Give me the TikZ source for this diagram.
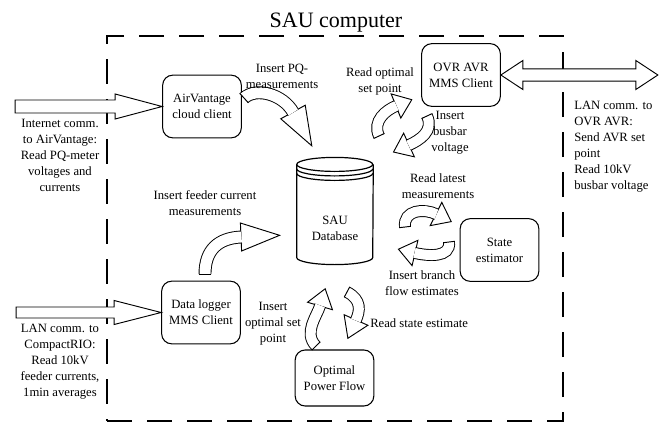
\documentclass[tikz,border=0pt]{standalone}
\usepackage{fontspec}
\setmainfont{Liberation Serif}
\usetikzlibrary{calc}
\newcommand{\lblfont}{\fontsize{9.5}{12}\selectfont}
\newcommand{\titlefont}{\fontsize{16.5}{20}\selectfont}
\tikzset{
  procbox/.style={draw, line width=0.8pt, rounded corners=7.5pt, align=center, inner sep=2pt, minimum width=59pt, minimum height=47pt},
  note/.style={align=center, inner sep=0pt},
  blockarrow/.style={draw, fill=white, line width=0.7pt, line join=miter},
  dbline/.style={draw, line width=0.9pt},
  sauframe/.style={draw, line width=1.5pt, dash pattern=on 18.75pt off 11.25pt, inner sep=0pt, minimum width=342pt, minimum height=288.75pt}
}
% tail, control, control, head base, shaft width, head half width, head length
\newcommand{\bentarrow}[7]{%
  \draw[blockarrow] ($(#4)!#6!90:(#3)$) -- ($(#4)!-#7!(#3)$) -- ($(#4)!#6!-90:(#3)$) -- cycle;
  \draw[blockarrow, fill=none, double=white, double distance=#5]
    (#1) .. controls (#2) and (#3) .. ($(#4)!-0.4pt!(#3)$);
  \draw[blockarrow, fill=none] ($(#1)!#5/2+0.7pt!90:(#2)$) -- ($(#1)!#5/2+0.7pt!-90:(#2)$);
}
\begin{document}
\begin{tikzpicture}[x=0.75pt, y=-0.75pt, font=\lblfont]
  \useasboundingbox (0,0) rectangle (665,425);
  \node[sauframe] (sau) at (335,228.5) {};
  \node[font=\titlefont, anchor=base, inner sep=0pt] (title) at (336,27.7) {SAU computer};

  \node[procbox] (air) at (202,106.5) {AirVantage\\cloud client};
  \node[procbox] (ovr) at (461,75) {OVR AVR\\MMS Client};
  \node[procbox] (state) at (499.5,250) {State\\estimator};
  \node[procbox] (logger) at (201,312.5) {Data logger\\MMS Client};
  \node[procbox, minimum height=42pt] (opf) at (334.5,378) {Optimal\\Power Flow};

  \node[minimum width=57pt, minimum height=80pt] (db) at (335,211) {};
  \draw[dbline] ($(db.north west)+(0,7)$) arc[start angle=180, end angle=-180, x radius=28.5pt, y radius=5.25pt];
  \foreach \dy in {11.5,16}
    \draw[dbline] ($(db.north west)+(0,\dy)$) arc[start angle=180, end angle=360, x radius=28.5pt, y radius=5.25pt];
  \draw[dbline] ($(db.north west)+(0,7)$) -- ($(db.south west)+(0,-7)$)
    arc[start angle=180, end angle=360, x radius=28.5pt, y radius=5.25pt] -- ($(db.north east)+(0,7)$);
  \node[note] (dbtext) at ($(db.center)+(0,17)$) {SAU\\Database};

  \draw[blockarrow] (air.west) -- ++(-47,-12.5) -- ++(0,6) -- ++(-100,0) -- ++(0,13) -- ++(100,0) -- ++(0,6) -- cycle;
  \draw[blockarrow] (logger.west) -- ++(-47,-12) -- ++(0,6.5) -- ++(-98,0) -- ++(0,11) -- ++(98,0) -- ++(0,6.5) -- cycle;
  \draw[blockarrow] (ovr.east) -- ++(22,-14.5) -- ++(0,8.3) -- ++(113,0) -- ++(0,-8.3) -- ++(22,14.5)
    -- ++(-22,14.5) -- ++(0,-8.3) -- ++(-113,0) -- ++(0,8.3) -- cycle;

  \bentarrow{244,98}{256,87}{283,94}{293,112}{8.25pt}{10.5pt}{29pt}
  \bentarrow{205,274}{205,250}{218,238}{241,237}{8.25pt}{10.5pt}{29pt}
  \bentarrow{379,136}{372,121}{386,110}{396,106}{7.5pt}{9.75pt}{12.75pt}
  \bentarrow{427,116}{434,131}{420,140}{409,145}{7.5pt}{9.75pt}{12.75pt}
  \bentarrow{405,227}{403,210}{424,208}{436,214}{7.5pt}{9.75pt}{12.75pt}
  \bentarrow{449,242}{451,258}{428,256}{415,253}{7.5pt}{9.75pt}{12.75pt}
  \bentarrow{316,346}{303,333}{317,316}{320,306}{7.5pt}{9.75pt}{13.5pt}
  \bentarrow{347,292}{362,300}{360,311}{356,320}{7.5pt}{9.75pt}{15pt}

  \node[note] (inettxt) at (60,155) {Internet comm.\\to AirVantage:\\Read PQ-meter\\voltages and\\currents};
  \node[note] (lantxt) at (60,362) {LAN comm. to\\CompactRIO:\\Read 10kV\\feeder currents,\\1min averages};
  \node[note, align=left, anchor=west] (ovrtxt) at (574,147) {LAN comm. to\\OVR AVR:\\Send AVR set\\point\\Read 10kV\\busbar voltage};
  \node[note] (pqtxt) at (282,76.5) {Insert PQ-\\measurements};
  \node[note] (roptxt) at (380,81.5) {Read optimal\\set point};
  \node[note] (busbartxt) at (450,133) {Insert\\busbar\\voltage};
  \node[note] (latesttxt) at (438,186.5) {Read latest\\measurements};
  \node[note] (branchtxt) at (422,283.5) {Insert branch\\flow estimates};
  \node[note, anchor=west] (statetxt) at (370,323) {Read state estimate};
  \node[note] (feedertxt) at (205,203) {Insert feeder current\\measurements};
  \node[note] (osptxt) at (273,324) {Insert\\optimal set\\point};
\end{tikzpicture}
\end{document}
